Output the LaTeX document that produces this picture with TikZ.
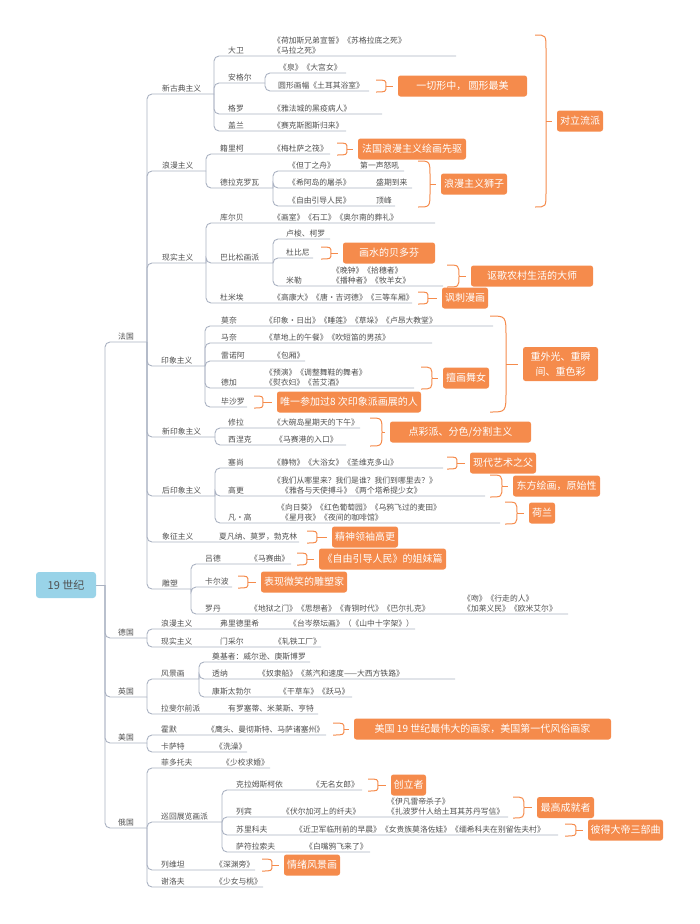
\documentclass[tikz,border=0pt]{standalone}
\usepackage{fontspec}
\setmainfont{Noto Sans CJK SC}
\definecolor{orng}{RGB}{245,139,76}
\definecolor{lnk}{RGB}{170,178,194}
\definecolor{ink}{RGB}{80,80,80}
\definecolor{sky}{RGB}{153,211,232}
\tikzset{
  link/.style={draw=lnk, line width=0.9pt, rounded corners=5pt},
  txt/.style={anchor=south west, inner sep=0pt, yshift=1.5pt, align=left, text=ink, font=\fontsize{7.8}{10}\selectfont},
  tip/.style={fill=orng, text=white, rounded corners=2.5pt, inner sep=0pt, align=center, minimum height=21pt, font=\fontsize{10}{15}\selectfont},
  brc/.style={draw=orng, line width=1pt},
  rootbox/.style={fill=sky, text=ink, rounded corners=3pt, minimum width=60pt, minimum height=26pt, font=\fontsize{11}{13}\selectfont}
}
% brace: x, top, bottom, width, box
\newcommand{\brc}[5]{%
  \pgfmathsetmacro{\brm}{(#2+#3)/2}%
  \pgfmathsetmacro{\brr}{min(1.3*#4,(#3-#2)/2)}%
  \draw[brc] (#1,#2) .. controls ({#1+#4},#2) .. ({#1+#4},{#2+\brr}) -- ({#1+#4},{#3-\brr}) .. controls ({#1+#4},#3) .. (#1,#3);
  \draw[brc,shorten >=5pt] ({#1+#4},\brm) -- (#5.west);
}
\begin{document}
\begin{tikzpicture}[x=1pt,y=-1pt]
\useasboundingbox (0,0) rectangle (700,924);

\node[rootbox] (root) at (66,585) {19 世纪};
\coordinate (t) at (105,585);
\draw[link] (root.east) -- (t);

\coordinate (fr) at (147,342);
\coordinate (de) at (147,638);
\coordinate (en) at (147,697);
\coordinate (us) at (147,743);
\coordinate (ru) at (147,828);
\draw[link] (t) |- (fr);
\draw[link] (t) |- (de);
\draw[link] (t) |- (en);
\draw[link] (t) |- (us);
\draw[link] (t) |- (ru);

\coordinate (xgd) at (214,94);
\coordinate (lm) at (206,171);
\coordinate (xs) at (206,263);
\coordinate (yx) at (205,366);
\coordinate (xyx) at (215,437);
\coordinate (hyx) at (215,496);
\coordinate (xz) at (299,542);
\coordinate (ds) at (191,589);
\draw[link] (fr) |- (xgd);
\draw[link] (fr) |- (lm);
\draw[link] (fr) |- (xs);
\draw[link] (fr) |- (yx);
\draw[link] (fr) |- (xyx);
\draw[link] (fr) |- (hyx);
\draw[link] (fr) |- (xz);
\draw[link] (fr) |- (ds);

\coordinate (dw) at (456,56);
\coordinate (age) at (265,83);
\coordinate (ag1) at (346,73);
\coordinate (ag2) at (369,91);
\coordinate (gl) at (382,114);
\coordinate (gn) at (346,131);
\draw[link] (xgd) |- (dw);
\draw[link] (xgd) |- (age);
\draw[link] (age) |- (ag1);
\draw[link] (age) |- (ag2);
\draw[link] (xgd) |- (gl);
\draw[link] (xgd) |- (gn);

\coordinate (jlk) at (330,154);
\coordinate (dlk) at (273,188);
\coordinate (dl1) at (404,171);
\coordinate (dl2) at (412,188);
\coordinate (dl3) at (395,206);
\draw[link] (lm) |- (jlk);
\draw[link] (lm) |- (dlk);
\draw[link] (dlk) |- (dl1);
\draw[link] (dlk) |- (dl2);
\draw[link] (dlk) |- (dl3);

\coordinate (kb) at (435,223);
\coordinate (bbs) at (273,263);
\coordinate (ls) at (330,239);
\coordinate (dbn) at (313,258);
\coordinate (ml) at (443,286);
\coordinate (dme) at (412,303);
\draw[link] (xs) |- (kb);
\draw[link] (xs) |- (bbs);
\draw[link] (bbs) |- (ls);
\draw[link] (bbs) |- (dbn);
\draw[link] (bbs) |- (ml);
\draw[link] (xs) |- (dme);

\coordinate (mn) at (493,326);
\coordinate (mna) at (432,343);
\coordinate (lna) at (305,361);
\coordinate (dj) at (414,388);
\coordinate (bsl) at (247,407);
\draw[link] (yx) |- (mn);
\draw[link] (yx) |- (mna);
\draw[link] (yx) |- (lna);
\draw[link] (yx) |- (dj);
\draw[link] (yx) |- (bsl);

\coordinate (xl) at (360,428);
\coordinate (xnk) at (346,445);
\draw[link] (xyx) |- (xl);
\draw[link] (xyx) |- (xnk);

\coordinate (sc) at (443,468);
\coordinate (gg) at (485,496);
\coordinate (fg) at (500,523);
\draw[link] (hyx) |- (sc);
\draw[link] (hyx) |- (gg);
\draw[link] (hyx) |- (fg);

\coordinate (ld) at (291,564);
\coordinate (keb) at (232,587);
\coordinate (ldan) at (568,614);
\draw[link] (ds) |- (ld);
\draw[link] (ds) |- (keb);
\draw[link] (ds) |- (ldan);

\coordinate (delm) at (415,629);
\coordinate (dexs) at (321,647);
\draw[link] (de) |- (delm);
\draw[link] (de) |- (dexs);

\coordinate (fjh) at (199,679);
\coordinate (djz) at (310,662);
\coordinate (tn) at (455,679);
\coordinate (kstb) at (352,697);
\coordinate (lfe) at (318,714);
\draw[link] (en) |- (fjh);
\draw[link] (fjh) |- (djz);
\draw[link] (fjh) |- (tn);
\draw[link] (fjh) |- (kstb);
\draw[link] (en) |- (lfe);

\coordinate (hm) at (326,735);
\coordinate (ksat) at (247,752);
\draw[link] (us) |- (hm);
\draw[link] (us) |- (ksat);

\coordinate (fdt) at (270,768);
\coordinate (xh) at (222,822);
\coordinate (klm) at (362,790);
\coordinate (lb) at (508,817);
\coordinate (slk) at (558,835);
\coordinate (sfl) at (370,852);
\coordinate (lwt) at (255,870);
\coordinate (xlf) at (263,887);
\draw[link] (ru) |- (fdt);
\draw[link] (ru) |- (xh);
\draw[link] (xh) |- (klm);
\draw[link] (xh) |- (lb);
\draw[link] (xh) |- (slk);
\draw[link] (xh) |- (sfl);
\draw[link] (ru) |- (lwt);
\draw[link] (ru) |- (xlf);

% texts
\node[txt] (n-fr) at (118,342) {法国};
\node[txt] (n-de) at (118,638) {德国};
\node[txt] (n-en) at (118,697) {英国};
\node[txt] (n-us) at (118,743) {美国};
\node[txt] (n-ru) at (118,828) {俄国};

\node[txt] (n-xgd) at (162,94) {新古典主义};
\node[txt] (n-lm) at (162,171) {浪漫主义};
\node[txt] (n-xs) at (162,263) {现实主义};
\node[txt] (n-yx) at (161,366) {印象主义};
\node[txt] (n-xyx) at (162,437) {新印象主义};
\node[txt] (n-hyx) at (162,496) {后印象主义};
\node[txt] (n-xz) at (162,542) {象征主义};
\node[txt] (w-xz) at (219,542) {夏凡纳、莫罗，勃克林};
\node[txt] (n-ds) at (162,589) {雕塑};

\node[txt] (n-dw) at (228,56) {大卫};
\node[txt] (w-dw) at (273,56) {《荷加斯兄弟宣誓》《苏格拉底之死》\\《马拉之死》};
\node[txt] (n-age) at (228,83) {安格尔};
\node[txt] (w-ag1) at (279,73) {《泉》《大宫女》};
\node[txt] (w-ag2) at (278,91) {圆形画幅《土耳其浴室》};
\node[txt] (n-gl) at (228,114) {格罗};
\node[txt] (w-gl) at (273,114) {《雅法城的黑疫病人》};
\node[txt] (n-gn) at (228,131) {盖兰};
\node[txt] (w-gn) at (273,131) {《赛克斯图斯归来》};

\node[txt] (n-jlk) at (220,154) {籍里柯};
\node[txt] (w-jlk) at (273,154) {《梅杜萨之筏》};
\node[txt] (n-dlk) at (220,188) {德拉克罗瓦};
\node[txt] (w-dl1) at (288,171) {《但丁之舟》};
\node[txt] (m-dl1) at (360,171) {第一声怒吼};
\node[txt] (w-dl2) at (288,188) {《希阿岛的屠杀》};
\node[txt] (m-dl2) at (376,188) {盛期到来};
\node[txt] (w-dl3) at (288,206) {《自由引导人民》};
\node[txt] (m-dl3) at (376,206) {顶峰};

\node[txt] (n-kb) at (220,223) {库尔贝};
\node[txt] (w-kb) at (273,223) {《画室》《石工》《奥尔南的葬礼》};
\node[txt] (n-bbs) at (220,263) {巴比松画派};
\node[txt] (n-ls) at (286,239) {卢梭、柯罗};
\node[txt] (n-dbn) at (286,258) {杜比尼};
\node[txt] (n-ml) at (286,286) {米勒};
\node[txt] (w-ml) at (332,286) {《晚钟》《拾穗者》\\《播种者》《牧羊女》};
\node[txt] (n-dme) at (220,303) {杜米埃};
\node[txt] (w-dme) at (273,303) {《高康大》《唐·吉诃德》《三等车厢》};

\node[txt] (n-mn) at (221,326) {莫奈};
\node[txt] (w-mn) at (265,326) {《印象·日出》《睡莲》《草垛》《卢昂大教堂》};
\node[txt] (n-mna) at (221,343) {马奈};
\node[txt] (w-mna) at (265,343) {《草地上的午餐》《吹短笛的男孩》};
\node[txt] (n-lna) at (221,361) {雷诺阿};
\node[txt] (w-lna) at (273,361) {《包厢》};
\node[txt] (n-dj) at (221,388) {德加};
\node[txt] (w-dj) at (265,388) {《预演》《调整舞鞋的舞者》\\《熨衣妇》《苦艾酒》};
\node[txt] (n-bsl) at (221,407) {毕沙罗};

\node[txt] (n-xl) at (228,428) {修拉};
\node[txt] (w-xl) at (273,428) {《大碗岛星期天的下午》};
\node[txt] (n-xnk) at (228,445) {西涅克};
\node[txt] (w-xnk) at (275,445) {《马赛港的入口》};

\node[txt] (n-sc) at (228,468) {塞尚};
\node[txt] (w-sc) at (273,468) {《静物》《大浴女》《圣维克多山》};
\node[txt] (n-gg) at (228,496) {高更};
\node[txt] (w-gg) at (273,496) {《我们从哪里来？我们是谁？我们到哪里去？》\\\hspace{8pt}《雅各与天使搏斗》《两个塔希提少女》};
\node[txt] (n-fg) at (228,523) {凡·高};
\node[txt] (w-fg) at (277,523) {《向日葵》《红色葡萄园》《乌鸦飞过的麦田》\\\hspace{4pt}《星月夜》《夜间的咖啡馆》};

\node[txt] (n-ld) at (205,564) {吕德};
\node[txt] (w-ld) at (250,564) {《马赛曲》};
\node[txt] (n-keb) at (205,587) {卡尔波};
\node[txt] (n-ldan) at (205,614) {罗丹};
\node[txt] (w-ldan) at (250,614) {《地狱之门》《思想者》《青铜时代》《巴尔扎克》};
\node[txt] (v-ldan) at (463,614) {《吻》《行走的人》\\《加莱义民》《欧米艾尔》};

\node[txt] (n-delm) at (161,629) {浪漫主义};
\node[txt] (p-delm) at (220,629) {弗里德里希};
\node[txt] (w-delm) at (289,629) {《台岑祭坛画》（《山中十字架》）};
\node[txt] (n-dexs) at (161,647) {现实主义};
\node[txt] (p-dexs) at (220,647) {门采尔};
\node[txt] (w-dexs) at (274,647) {《轧铁工厂》};

\node[txt] (n-fjh) at (161,679) {风景画};
\node[txt] (n-djz) at (212,662) {奠基者：威尔逊、庚斯博罗};
\node[txt] (n-tn) at (212,679) {透纳};
\node[txt] (w-tn) at (258,679) {《奴隶船》《蒸汽和速度——大西方铁路》};
\node[txt] (n-kstb) at (212,697) {康斯太勃尔};
\node[txt] (w-kstb) at (279,697) {《干草车》《跃马》};
\node[txt] (n-lfe) at (161,714) {拉斐尔前派};
\node[txt] (w-lfe) at (228,714) {有罗塞蒂、米莱斯、亨特};

\node[txt] (n-hm) at (161,735) {霍默};
\node[txt] (w-hm) at (207,735) {《鹰头、曼彻斯特、马萨诸塞州》};
\node[txt] (n-ksat) at (161,752) {卡萨特};
\node[txt] (w-ksat) at (215,752) {《洗澡》};

\node[txt] (n-fdt) at (161,768) {菲多托夫};
\node[txt] (w-fdt) at (222,768) {《少校求婚》};
\node[txt] (n-xh) at (161,822) {巡回展览画派};
\node[txt] (n-klm) at (236,790) {克拉姆斯柯依};
\node[txt] (w-klm) at (312,790) {《无名女郎》};
\node[txt] (n-lb) at (236,817) {列宾};
\node[txt] (w-lb) at (282,817) {《伏尔加河上的纤夫》};
\node[txt] (v-lb) at (387,817) {《伊凡雷帝杀子》\\《扎波罗什人给土耳其苏丹写信》};
\node[txt] (n-slk) at (236,835) {苏里科夫};
\node[txt] (w-slk) at (295,835) {《近卫军临刑前的早晨》《女贵族莫洛佐娃》《缅希科夫在别留佐夫村》};
\node[txt] (n-sfl) at (236,852) {萨符拉索夫};
\node[txt] (w-sfl) at (305,852) {《白嘴鸦飞来了》};
\node[txt] (n-lwt) at (161,870) {列维坦};
\node[txt] (w-lwt) at (215,870) {《深渊旁》};
\node[txt] (n-xlf) at (161,887) {谢洛夫};
\node[txt] (w-xlf) at (215,887) {《少女与桃》};

% boxes
\node[tip, minimum width=129pt] (b1) at (462.5,86) {一切形中， 圆形最美};
\node[tip, minimum width=46pt] (b2) at (580,121) {对立流派};
\node[tip, minimum width=108pt] (b3) at (412,149) {法国浪漫主义绘画先驱};
\node[tip, minimum width=66pt] (b4) at (474,184) {浪漫主义狮子};
\node[tip, minimum width=92pt] (b5) at (389,253) {画水的贝多芬};
\node[tip, minimum width=122pt] (b6) at (532,276) {讴歌农村生活的大师};
\node[tip, minimum width=46pt] (b7) at (465,298) {讽刺漫画};
\node[tip, minimum width=46pt] (b8) at (466,378) {擅画舞女};
\node[tip, minimum width=144pt] (b9) at (349,402) {唯一参加过8 次印象派画展的人};
\node[tip, minimum width=75pt, minimum height=34pt] (b10) at (560.5,364) {重外光、重瞬\\间、重色彩};
\node[tip, minimum width=141pt] (b11) at (460.5,432) {点彩派、分色/分割主义};
\node[tip, minimum width=66pt] (b12) at (503,463) {现代艺术之父};
\node[tip, minimum width=87pt] (b13) at (556.5,486) {东方绘画，原始性};
\node[tip, minimum width=26pt] (b14) at (542,513) {荷兰};
\node[tip, minimum width=66pt] (b15) at (365,537) {精神领袖高更};
\node[tip, minimum width=127pt] (b16) at (382.5,559) {《自由引导人民》的姐妹篇};
\node[tip, minimum width=86pt] (b17) at (304,582) {表现微笑的雕塑家};
\node[tip, minimum width=257pt] (b18) at (482.5,729) {美国 19 世纪最伟大的画家，美国第一代风俗画家};
\node[tip, minimum width=35pt] (b19) at (408.5,785) {创立者};
\node[tip, minimum width=57pt] (b20) at (565.5,807.5) {最高成就者};
\node[tip, minimum width=75pt] (b21) at (625.5,830) {彼得大帝三部曲};
\node[tip, minimum width=56pt] (b22) at (312,865) {情绪风景画};

\brc{376}{80}{92}{10}{b1}
\brc{535}{35}{207}{11}{b2}
\brc{337}{143}{155}{10}{b3}
\brc{418}{161}{207}{12}{b4}
\brc{321}{247}{259}{10}{b5}
\brc{447}{265}{287}{12}{b6}
\brc{418}{292}{304}{10}{b7}
\brc{421}{367}{389}{11}{b8}
\brc{254}{396}{408}{9}{b9}
\brc{490}{316}{412}{16}{b10}
\brc{370}{418}{446}{12}{b11}
\brc{447}{457}{469}{10}{b12}
\brc{490}{475}{497}{12}{b13}
\brc{505}{502}{524}{12}{b14}
\brc{307}{531}{543}{10}{b15}
\brc{297}{553}{565}{10}{b16}
\brc{238}{576}{588}{10}{b17}
\brc{333}{723}{735}{11}{b18}
\brc{368}{779}{791}{10}{b19}
\brc{513}{797}{818}{11}{b20}
\brc{565}{824}{836}{11}{b21}
\brc{262}{859}{871}{10}{b22}
\end{tikzpicture}
\end{document}
